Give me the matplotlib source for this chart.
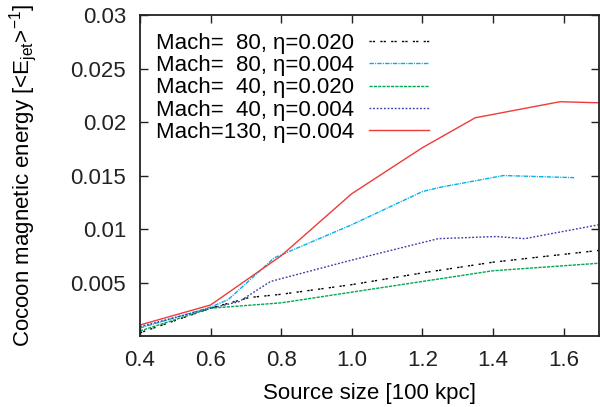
import matplotlib
matplotlib.use("Agg")
import matplotlib.pyplot as plt
from matplotlib.ticker import FormatStrFormatter

plt.rcParams['font.family'] = ['Liberation Sans', 'DejaVu Sans']
plt.rcParams['mathtext.fontset'] = 'custom'
plt.rcParams['mathtext.rm'] = 'Liberation Sans'
plt.rcParams['mathtext.it'] = 'Liberation Sans'

labels = ["Mach=  80, η=0.020", "Mach=  80, η=0.004", "Mach=  40, η=0.020",
          "Mach=  40, η=0.004", "Mach=130, η=0.004"]

x_m80_020 = [0.4, 0.6, 0.71, 0.8, 1.0, 1.2, 1.4, 1.7]
y_m80_020 = [0.0003, 0.0026, 0.0036, 0.0039, 0.0048, 0.0059, 0.0069, 0.0080]

x_m80_004 = [0.4, 0.6, 0.65, 0.78, 1.0, 1.2, 1.25, 1.43, 1.63]
y_m80_004 = [0.00075, 0.0027, 0.0034, 0.0073, 0.0104, 0.0135, 0.0139, 0.0150, 0.0148]

x_m40_020 = [0.4, 0.6, 0.8, 1.0, 1.2, 1.4, 1.7]
y_m40_020 = [0.00047, 0.0026, 0.0031, 0.0041, 0.0051, 0.0061, 0.0068]

x_m40_004 = [0.4, 0.6, 0.68, 0.77, 1.0, 1.245, 1.41, 1.49, 1.7]
y_m40_004 = [0.00087, 0.0026, 0.0032, 0.0051, 0.0071, 0.0091, 0.0093, 0.0091, 0.0104]

x_m130_004 = [0.4, 0.6, 0.8, 1.0, 1.2, 1.35, 1.59, 1.7]
y_m130_004 = [0.00103, 0.0029, 0.0075, 0.0133, 0.0176, 0.0204, 0.0219, 0.0218]

xticks = [0.4, 0.6, 0.8, 1.0, 1.2, 1.4, 1.6]
yticks = [0.005, 0.01, 0.015, 0.02, 0.025, 0.03]
ytick_labels = ['0.005', '0.01', '0.015', '0.02', '0.025', '0.03']

FS = 16

fig = plt.figure(figsize=(6.0, 4.07), dpi=100)
ax = fig.add_axes([0.2333, 0.1744, 0.7647, 0.7886])

series = [
    (x_m80_020, y_m80_020, 'black', (0, (1.6, 0.8, 1.6, 3.8))),
    (x_m80_004, y_m80_004, '#00b0e8', (0, (3.2, 0.8, 0.8, 0.8))),
    (x_m40_020, y_m40_020, '#00a84f', (0, (2.3, 0.8))),
    (x_m40_004, y_m40_004, '#3a3aa8', (0, (1.3, 1.3))),
    (x_m130_004, y_m130_004, '#f03a3a', '-'),
]
for (xs, ys, c, ls), lab in zip(series, labels):
    ax.plot(xs, ys, color=c, linestyle=ls, linewidth=1.0, label=lab)

ax.set_xlim(0.4, 1.7)
ax.set_ylim(0, 0.03)
ax.set_xticks(xticks)
ax.set_yticks(yticks)
ax.xaxis.set_major_formatter(FormatStrFormatter('%.1f'))
ax.set_yticklabels(ytick_labels)
ax.tick_params(direction='in', length=6, width=1, top=True, right=True,
               labelsize=FS, colors='#222222')
ax.tick_params(axis='x', pad=10)
ax.tick_params(axis='y', pad=10)
for s in ax.spines.values():
    s.set_linewidth(1.3)
    s.set_color('#222222')

ax.set_xlabel('Source size [100 kpc]', fontsize=FS)
ax.set_ylabel(r'Cocoon magnetic energy [<E$_{\mathrm{jet}}$>$^{-1}$]', fontsize=FS)
ax.xaxis.set_label_coords(0.5, -0.145)
ax.yaxis.set_label_coords(-0.221, 0.5)

leg = ax.legend(loc='upper left', bbox_to_anchor=(0.035, 0.945), frameon=False,
                markerfirst=False, fontsize=FS, handlelength=2.7,
                handletextpad=0.68, labelspacing=0.06, borderaxespad=0,
                borderpad=0)

fig.savefig('out.png', dpi=100)
